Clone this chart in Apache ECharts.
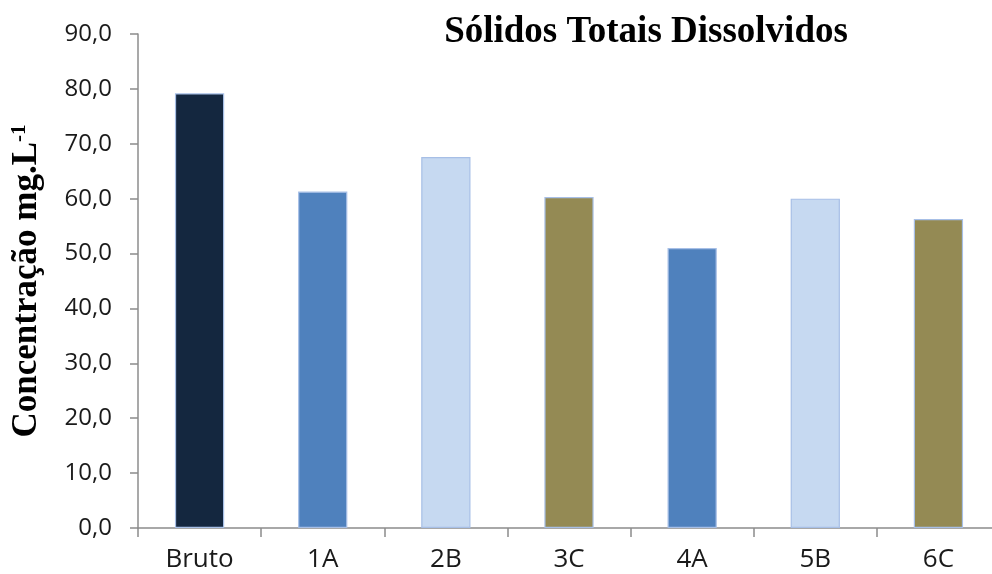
<!DOCTYPE html>
<html>
<head>
<meta charset="utf-8">
<script src="https://cdn.jsdelivr.net/npm/echarts@6/dist/echarts.min.js"></script>
<style>
  html, body { margin: 0; padding: 0; background: #ffffff; }
  #chart { width: 992px; height: 574px; }
</style>
</head>
<body>
<div id="chart"></div>
<script>
// Sólidos totais dissolvidos por amostra
const categories = ['Bruto', '1A', '2B', '3C', '4A', '5B', '6C'];
const concentrations = [79.2, 61.3, 67.6, 60.3, 51.0, 60.0, 56.3];
const barColors = ['#14273f', '#4f81bd', '#c6d9f1', '#948a54', '#4f81bd', '#c6d9f1', '#948a54'];
const yTicks = { min: 0, max: 90, interval: 10 };

const chart = echarts.init(document.getElementById('chart'));

chart.setOption({
  animation: false,
  backgroundColor: '#ffffff',
  title: {
    text: 'Sólidos Totais Dissolvidos',
    left: 641,
    top: 9,
    textAlign: 'center',
    textStyle: {
      fontFamily: 'Liberation Serif',
      fontWeight: 'bold',
      fontSize: 37,
      color: '#000000'
    }
  },
  grid: {
    left: 138, right: -8, top: 34, bottom: 46,
    containLabel: false,
    outerBoundsMode: 'none'
  },
  xAxis: {
    type: 'category',
    data: categories,
    axisLine: { lineStyle: { color: '#8c8c8c', width: 1.5 } },
    axisTick: { show: true, length: 9, alignWithLabel: false, lineStyle: { color: '#8c8c8c', width: 1.5 } },
    axisLabel: {
      margin: 19,
      fontFamily: 'Open Sans',
      fontSize: 26,
      color: '#1a1a1a'
    }
  },
  yAxis: {
    type: 'value',
    min: yTicks.min,
    max: yTicks.max,
    interval: yTicks.interval,
    name: '{a|Concentração mg.L}{b|-1}',
    nameLocation: 'middle',
    nameRotate: 90,
    nameGap: 94,
    nameTextStyle: {
      rich: {
        a: { fontFamily: 'Liberation Serif', fontWeight: 'bold', fontSize: 35, color: '#000000' },
        b: { fontFamily: 'Liberation Serif', fontWeight: 'bold', fontSize: 21, color: '#000000', padding: [0, 0, 14, 0] }
      }
    },
    splitLine: { show: false },
    axisLine: { show: true, lineStyle: { color: '#8c8c8c', width: 1.5 } },
    axisTick: { show: true, inside: false, length: 8, lineStyle: { color: '#8c8c8c', width: 1.5 } },
    axisLabel: {
      margin: 26,
      fontFamily: 'Open Sans',
      fontSize: 24,
      color: '#1a1a1a',
      formatter: v => v.toFixed(1).replace('.', ',')
    }
  },
  series: [{
    type: 'bar',
    data: concentrations.map((v, i) => ({
      value: v,
      itemStyle: { color: barColors[i] }
    })),
    barWidth: '40%',
    itemStyle: { borderColor: '#a7bfe6', borderWidth: 1.2 }
  }]
});
</script>
</body>
</html>
